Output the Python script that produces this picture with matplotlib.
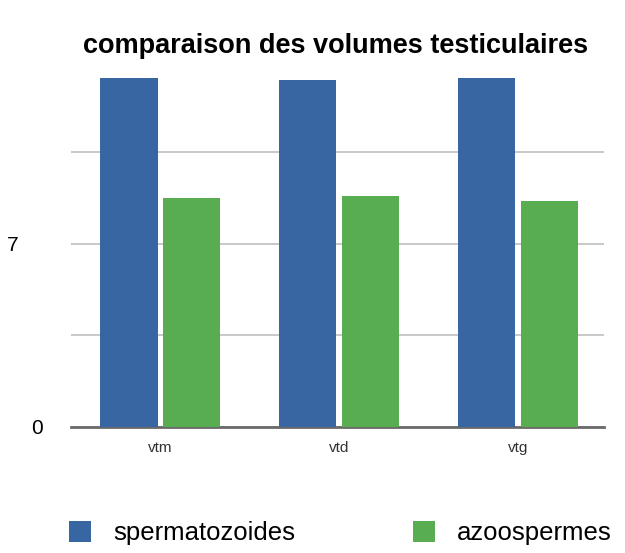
import matplotlib
matplotlib.use("Agg")
import matplotlib.pyplot as plt
import matplotlib.transforms as mtransforms
import numpy as np

plt.rcParams["font.family"] = ["Liberation Sans", "DejaVu Sans"]

categories = ["vtm", "vtd", "vtg"]
spermatozoides = [13.35, 13.25, 13.35]
azoospermes = [8.75, 8.85, 8.65]
series_names = ["spermatozoides", "azoospermes"]
ytick_values = [0, 3.5, 7, 10.5]
ytick_labels = ["0", "", "7", ""]

BLUE = "#3766a2"
GREEN = "#58ad50"

fig = plt.figure(figsize=(6.25, 5.53), dpi=100)
ax = fig.add_axes([0.1136, 0.228, 0.8524, 0.643])

x = np.arange(len(categories))
width = 0.32
ax.bar(x - width / 2 - 0.015, spermatozoides, width, color=BLUE, label=series_names[0], zorder=3)
ax.bar(x + width / 2 + 0.015, azoospermes, width, color=GREEN, label=series_names[1], zorder=3)

ax.set_xlim(-0.5, 2.48)
ax.set_ylim(0, 13.6)
ax.set_yticks(ytick_values)
ax.set_yticklabels(ytick_labels, fontsize=15)
ax.set_xticks(x)
ax.set_xticklabels(categories, fontsize=11, color="#333333")
ax.tick_params(axis="both", length=0)
ax.tick_params(axis="y", pad=20)
ax.tick_params(axis="x", pad=10)
# the "7" sits further left than the "0" in the original
shift = mtransforms.ScaledTranslation(-0.25, 0, fig.dpi_scale_trans)
lab7 = ax.get_yticklabels()[2]
lab7.set_transform(lab7.get_transform() + shift)
ax.grid(axis="y", color="#c4c4c4", linewidth=1.3, zorder=0)
for side in ["top", "right", "left"]:
    ax.spines[side].set_visible(False)
ax.spines["bottom"].set_color("#6a6a6a")
ax.spines["bottom"].set_linewidth(2)

fig.suptitle("comparaison des volumes testiculaires", fontsize=19.5, fontweight="bold", x=0.537, y=0.94)

fig.legend(loc="lower center", bbox_to_anchor=(0.545, -0.028), ncol=2, frameon=False,
           fontsize=18.5, handlelength=0.85, handleheight=0.85, columnspacing=4.6,
           handletextpad=0.85)

fig.savefig("out.png", dpi=100)
